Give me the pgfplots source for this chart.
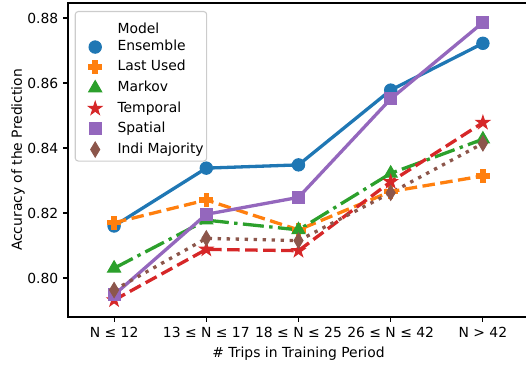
\documentclass[border=0pt]{standalone}
\usepackage{pgfplots}
\pgfplotsset{compat=1.18}
\usepackage{fontspec}
\setmainfont{DejaVu Sans}
\usetikzlibrary{plotmarks}

\definecolor{tabblue}{HTML}{1F77B4}
\definecolor{taborange}{HTML}{FF7F0E}
\definecolor{tabgreen}{HTML}{2CA02C}
\definecolor{tabred}{HTML}{D62728}
\definecolor{tabpurple}{HTML}{9467BD}
\definecolor{tabbrown}{HTML}{8C564B}

\pgfdeclareplotmark{Pfill}{%
  \pgfpathmoveto{\pgfpoint{-0.34\pgfplotmarksize}{\pgfplotmarksize}}%
  \pgfpathlineto{\pgfpoint{0.34\pgfplotmarksize}{\pgfplotmarksize}}%
  \pgfpathlineto{\pgfpoint{0.34\pgfplotmarksize}{0.34\pgfplotmarksize}}%
  \pgfpathlineto{\pgfpoint{\pgfplotmarksize}{0.34\pgfplotmarksize}}%
  \pgfpathlineto{\pgfpoint{\pgfplotmarksize}{-0.34\pgfplotmarksize}}%
  \pgfpathlineto{\pgfpoint{0.34\pgfplotmarksize}{-0.34\pgfplotmarksize}}%
  \pgfpathlineto{\pgfpoint{0.34\pgfplotmarksize}{-\pgfplotmarksize}}%
  \pgfpathlineto{\pgfpoint{-0.34\pgfplotmarksize}{-\pgfplotmarksize}}%
  \pgfpathlineto{\pgfpoint{-0.34\pgfplotmarksize}{-0.34\pgfplotmarksize}}%
  \pgfpathlineto{\pgfpoint{-\pgfplotmarksize}{-0.34\pgfplotmarksize}}%
  \pgfpathlineto{\pgfpoint{-\pgfplotmarksize}{0.34\pgfplotmarksize}}%
  \pgfpathlineto{\pgfpoint{-0.34\pgfplotmarksize}{0.34\pgfplotmarksize}}%
  \pgfpathclose
  \pgfusepathqfillstroke}

\pgfdeclareplotmark{starfill}{%
  \pgfpathmoveto{\pgfpointpolar{90}{\pgfplotmarksize}}%
  \pgfpathlineto{\pgfpointpolar{126}{0.382\pgfplotmarksize}}%
  \pgfpathlineto{\pgfpointpolar{162}{\pgfplotmarksize}}%
  \pgfpathlineto{\pgfpointpolar{198}{0.382\pgfplotmarksize}}%
  \pgfpathlineto{\pgfpointpolar{234}{\pgfplotmarksize}}%
  \pgfpathlineto{\pgfpointpolar{270}{0.382\pgfplotmarksize}}%
  \pgfpathlineto{\pgfpointpolar{306}{\pgfplotmarksize}}%
  \pgfpathlineto{\pgfpointpolar{342}{0.382\pgfplotmarksize}}%
  \pgfpathlineto{\pgfpointpolar{18}{\pgfplotmarksize}}%
  \pgfpathlineto{\pgfpointpolar{54}{0.382\pgfplotmarksize}}%
  \pgfpathclose
  \pgfusepathqfillstroke}

\pgfdeclareplotmark{thindiamond}{%
  \pgfpathmoveto{\pgfpoint{0pt}{\pgfplotmarksize}}%
  \pgfpathlineto{\pgfpoint{0.6\pgfplotmarksize}{0pt}}%
  \pgfpathlineto{\pgfpoint{0pt}{-\pgfplotmarksize}}%
  \pgfpathlineto{\pgfpoint{-0.6\pgfplotmarksize}{0pt}}%
  \pgfpathclose
  \pgfusepathqfillstroke}

\begin{document}
\fontsize{13.9}{16.68}\selectfont
\begin{tikzpicture}
\begin{axis}[
  name=ax,
  scale only axis, width=461pt, height=314pt,
  xmin=-0.5, xmax=4.5, ymin=0.788, ymax=0.8846,
  xtick={0,1,2,3,4},
  xticklabels={N ≤ 12, 13 ≤ N ≤ 17, 18 ≤ N ≤ 25, 26 ≤ N ≤ 42, N > 42},
  ytick={0.80,0.82,0.84,0.86,0.88},
  yticklabels={0.80,0.82,0.84,0.86,0.88},
  xtick pos=left, ytick pos=left,
  tick align=outside, major tick length=4.9pt,
  every tick/.style={black, line width=1.1pt},
  axis line style={black, line width=1.1pt},
  xlabel={\# Trips in Training Period},
  ylabel={Accuracy of the Prediction},
  ylabel style={yshift=-7pt},
  every axis plot/.append style={line width=3.3pt},
  legend image code/.code={\path (0pt,0pt) (28pt,0pt); \draw[#1] plot coordinates {(15.3pt,0pt)};},
  legend cell align=left,
  legend style={at={(0,1)}, anchor=north west, xshift=6.7pt, yshift=-8pt,
    draw=black!20, line width=1.1pt, rounded corners=3pt, fill=white,
    inner xsep=3pt, inner ysep=4pt, row sep=7pt, column sep=8pt,
    nodes={inner sep=0pt, text height=10pt, text depth=3pt}},
]
\addlegendimage{empty legend}
\addlegendentry[text height=18pt, text depth=-2pt]{Model}

\addplot[tabblue, solid, mark=*, mark size=6.2pt, mark options={solid, line width=1pt, sharp corners, fill=tabblue}]
  coordinates {(0,0.8160) (1,0.8338) (2,0.8348) (3,0.8578) (4,0.8722)};
\addlegendentry{Ensemble}

\addplot[taborange, dash pattern=on 12.5pt off 5.5pt, mark=Pfill, mark size=6.5pt, mark options={solid, line width=1pt, sharp corners, fill=taborange}]
  coordinates {(0,0.8170) (1,0.8240) (2,0.8148) (3,0.8266) (4,0.8314)};
\addlegendentry{Last Used}

\addplot[tabgreen, dash pattern=on 21pt off 5.4pt on 3.4pt off 5.4pt, mark=triangle*, mark size=7.5pt, mark options={solid, line width=1pt, sharp corners, fill=tabgreen}]
  coordinates {(0,0.8030) (1,0.8178) (2,0.8148) (3,0.8322) (4,0.8427)};
\addlegendentry{Markov}

\addplot[tabred, dash pattern=on 12.5pt off 5.5pt, mark=starfill, mark size=7pt, mark options={solid, line width=1pt, sharp corners, fill=tabred}]
  coordinates {(0,0.7932) (1,0.8088) (2,0.8084) (3,0.8296) (4,0.8478)};
\addlegendentry{Temporal}

\addplot[tabpurple, solid, mark=square*, mark size=6pt, mark options={solid, line width=1pt, sharp corners, fill=tabpurple}]
  coordinates {(0,0.7948) (1,0.8196) (2,0.8248) (3,0.8551) (4,0.8786)};
\addlegendentry{Spatial}

\addplot[tabbrown, dash pattern=on 3.4pt off 5.6pt, mark=thindiamond, mark size=7.5pt, mark options={solid, line width=1pt, sharp corners, fill=tabbrown}]
  coordinates {(0,0.7963) (1,0.8122) (2,0.8115) (3,0.8262) (4,0.8414)};
\addlegendentry{Indi Majority}
\end{axis}
\pgfresetboundingbox
\path[use as bounding box] ([xshift=-68pt,yshift=-49pt]ax.south west) rectangle ([xshift=-3pt,yshift=3pt]ax.north east);
\end{tikzpicture}
\end{document}
